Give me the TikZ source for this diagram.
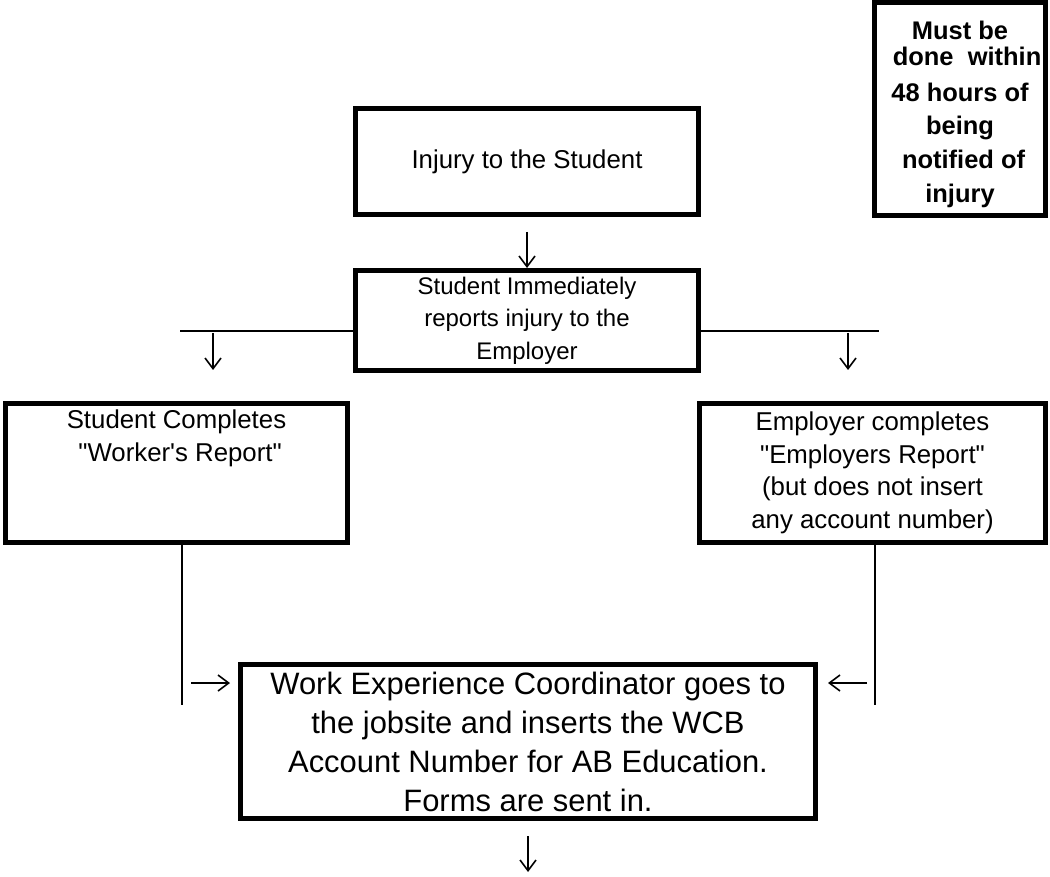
\documentclass[tikz,border=0pt]{standalone}
\usepackage{fontspec}
\setmainfont{Liberation Sans}
\usetikzlibrary{arrows.meta}

\tikzstyle{every node}=[font=\fontsize{19.35}{24.4}\selectfont]

\begin{document}
\begin{tikzpicture}[
            x=0.75pt, y=-0.75pt,
            flowbox/.style={draw, line width=3.75pt, align=center, inner sep=0pt},
            joinline/.style={line width=2pt},
            downarrow/.style={line width=1.2pt, -{Straight Barb[length=8pt,width=12pt,line width=1.2pt]}}]
    \useasboundingbox (0,0) rectangle (1050,877);

    \node[flowbox, minimum width=128.25pt, minimum height=159.75pt,
          font=\bfseries\fontsize{19.1}{25.5}\selectfont] (deadline) at (960,109)
          {\rule{0pt}{21.5pt}Must be\\[-6pt] \ \ done\ \ within\\[2pt] 48 hours of\\[-1pt] being\\ \ notified of\\ injury};
    \node[flowbox, minimum width=257.25pt, minimum height=79.5pt] (injury) at (527,161.5) {Injury to the Student};
    \node[flowbox, minimum width=257.25pt, minimum height=75pt,
          font=\fontsize{18}{24.4}\selectfont] (reports) at (527,320.5)
          {Student Immediately\\ reports injury to the\\ Employer};
    \node[flowbox, minimum width=256.5pt, minimum height=104.25pt] (worker) at (176.5,473)
          {Student Completes\\ \ \textquotedbl Worker\textquotesingle s Report\textquotedbl\\ \strut\\ \strut};
    \node[flowbox, minimum width=259.5pt, minimum height=104.25pt] (employer) at (872.5,473)
          {Employer completes\\ \textquotedbl Employers Report\textquotedbl\\ (but does not insert\\ any account number)};
    \node[flowbox, minimum width=431.25pt, minimum height=115.5pt,
          font=\fontsize{23.2}{29.25}\selectfont] (coordinator) at (528,741.5)
          {Work Experience Coordinator goes to\\ the jobsite and inserts the WCB\\ Account Number for AB Education.\\ Forms are sent in.};

    % split line under the report box
    \coordinate (lfork) at (180,331);
    \coordinate (rfork) at (879,331);
    \draw[joinline] (lfork) -- (lfork -| reports.west);
    \draw[joinline] (reports.east |- rfork) -- (rfork);

    % lines down from the two forms
    \coordinate (ldrop) at (182,705);
    \coordinate (rdrop) at (875,705);
    \draw[joinline] (ldrop |- worker.south) -- (ldrop);
    \draw[joinline] (rdrop |- employer.south) -- (rdrop);

    % arrows
    \coordinate (topstart) at (527,232);
    \draw[downarrow] (topstart) -- (reports.north);
    \coordinate (lastart) at (213,333);
    \coordinate (laend) at (213,370);
    \draw[downarrow] (lastart) -- (laend);
    \coordinate (rastart) at (848,333);
    \coordinate (raend) at (848,370);
    \draw[downarrow] (rastart) -- (raend);
    \coordinate (linstart) at (191,683);
    \coordinate (linend) at (230,683);
    \draw[downarrow] (linstart) -- (linend);
    \coordinate (rinstart) at (867,683);
    \coordinate (rinend) at (828,683);
    \draw[downarrow] (rinstart) -- (rinend);
    \coordinate (outstart) at (528,836);
    \coordinate (outend) at (528,872);
    \draw[downarrow] (outstart) -- (outend);
\end{tikzpicture}
\end{document}
